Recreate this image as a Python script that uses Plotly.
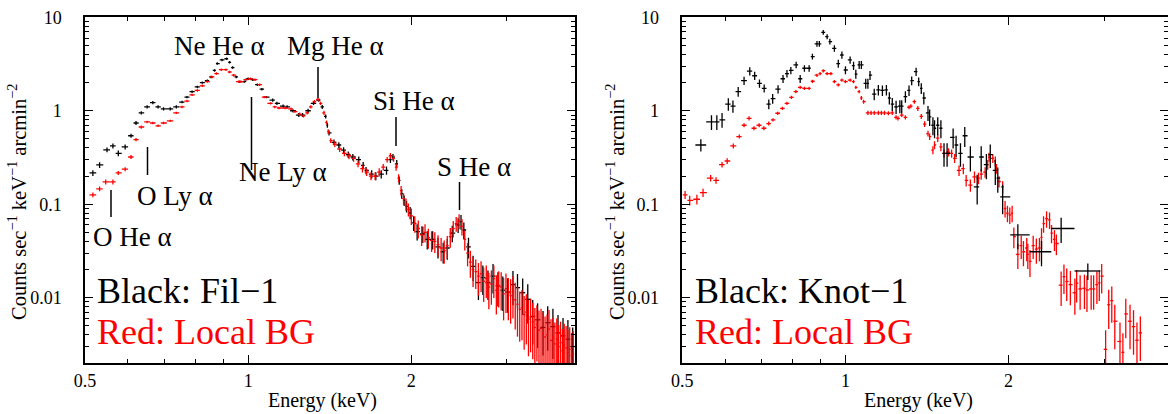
import numpy as np
import plotly.graph_objects as go

# ---------------- data ----------------
# Left panel: Fil-1 (black)
fil_E = [0.517,0.532,0.549,0.563,0.576,0.593,0.608,0.621,0.635,0.651,
         0.667,0.682,0.698,0.718,0.737,0.755,0.771,0.788,0.806,0.823,
         0.841,0.854,0.867,0.877,0.895,0.913,0.924,0.936,0.951,0.965,
         0.984,1.0,1.02,1.04,1.06,1.08,1.11,1.13,1.16,1.18,
         1.21,1.24,1.26,1.29,1.32,1.35,1.37,1.39,1.40,1.41,
         1.44,1.47,1.50,1.53,1.56,1.60,1.63,1.65,1.69,1.72,
         1.76,1.80,1.83,1.85,1.88,1.90,1.92,1.94,1.96,1.99,
         2.02,2.05,2.10,2.14,2.19,2.24,2.29,2.33,2.38,2.44,
         2.47,2.50,2.55,2.60,2.66,2.71,2.77,2.83,2.89,2.95,
         3.01,3.08,3.14,3.21,3.28,3.35,3.42,3.50,3.57,3.65,
         3.73,3.81,3.89,3.97]
fil_V = [0.216,0.263,0.382,0.42,0.35,0.41,0.54,0.74,0.95,1.1,
         1.22,1.1,1.05,1.05,1.1,1.24,1.4,1.6,1.8,2.0,
         2.1,2.3,2.7,3.2,3.5,3.6,3.3,2.9,2.3,2.05,
         2.05,2.2,2.15,1.9,1.7,1.4,1.3,1.2,1.12,1.1,
         1.0,0.9,0.9,1.0,1.2,1.3,1.1,0.87,0.7,0.58,
         0.46,0.43,0.38,0.34,0.32,0.3,0.26,0.23,0.21,0.2,
         0.21,0.23,0.3,0.32,0.27,0.18,0.13,0.11,0.095,0.081,
         0.063,0.051,0.048,0.042,0.042,0.035,0.031,0.034,0.049,0.06,
         0.065,0.053,0.035,0.0216,0.0145,0.0164,0.0145,0.017,0.0134,0.012,
         0.0115,0.0138,0.0128,0.0113,0.0096,0.0063,0.0058,0.0048,0.0054,0.0049,
         0.0042,0.0039,0.0036,0.0030]
fil_err = [0.07,0.07,0.06,0.06,0.07,0.06,0.05,0.05,0.04,0.04,
           0.04,0.04,0.04,0.04,0.04,0.03,0.03,0.03,0.03,0.03,
           0.03,0.03,0.03,0.03,0.03,0.03,0.03,0.03,0.03,0.03,
           0.03,0.03,0.03,0.03,0.03,0.03,0.04,0.04,0.04,0.04,
           0.04,0.05,0.05,0.05,0.04,0.04,0.05,0.05,0.06,0.06,
           0.07,0.07,0.07,0.08,0.08,0.08,0.09,0.09,0.1,0.1,
           0.1,0.1,0.08,0.08,0.1,0.1,0.12,0.13,0.14,0.15,
           0.18,0.2,0.2,0.22,0.22,0.25,0.25,0.25,0.2,0.18,
           0.18,0.2,0.25,0.3,0.35,0.35,0.35,0.35,0.4,0.4,
           0.4,0.4,0.4,0.42,0.45,0.5,0.5,0.5,0.5,0.55,
           0.55,0.55,0.6,0.6]

# Left panel: local background (red)
filbg_E = [0.517,0.532,0.546,0.563,0.576,0.593,0.608,0.621,0.635,0.651,
           0.667,0.682,0.698,0.718,0.737,0.755,0.771,0.788,0.806,0.823,
           0.841,0.858,0.874,0.892,0.91,0.924,0.94,0.96,0.97,0.99,
           1.01,1.03,1.05,1.07,1.10,1.12,1.14,1.17,1.20,1.22,
           1.245,1.265,1.285,1.305,1.325,1.345,1.36,1.38,1.395,1.405,
           1.42,1.445,1.475,1.505,1.535,1.565,1.595,1.625,1.655,1.685,
           1.715,1.745,1.775,1.805,1.83,1.855,1.875,1.895,1.915,1.935,
           1.955,1.975,
           2.00,2.03,2.06,2.09,2.12,2.15,2.18,2.21,2.24,2.27,
           2.30,2.33,2.36,2.39,2.42,2.45,2.48,2.51,2.54,2.57,
           2.60,2.63,2.66,2.69,2.72,2.75,2.78,2.81,2.84,2.87,
           2.90,2.93,2.96,2.99,3.02,3.05,3.08,3.11,3.14,3.17,
           3.20,3.23,3.26,3.29,3.32,3.35,3.38,3.41,3.44,3.47,
           3.50,3.53,3.56,3.59,3.62,3.65,3.68,3.71,3.74,3.77,
           3.80,3.83,3.86,3.89,3.92,3.95,3.98]
filbg_V = [0.126,0.146,0.173,0.173,0.216,0.237,0.32,0.49,0.67,0.76,
           0.74,0.69,0.74,0.78,0.95,1.1,1.27,1.48,1.65,1.85,
           2.05,2.3,2.5,2.75,2.75,2.6,2.4,2.05,2.05,2.15,
           2.2,2.15,1.9,1.4,1.2,1.1,1.07,1.07,1.05,0.98,
           0.92,0.88,0.95,1.1,1.25,1.32,1.2,0.95,0.75,0.6,
           0.48,0.44,0.39,0.35,0.33,0.31,0.27,0.24,0.22,0.2,
           0.2,0.22,0.25,0.3,0.33,0.31,0.25,0.19,0.14,0.115,
           0.1,0.088,
           0.075,0.062,0.055,0.047,0.05,0.044,0.041,0.04,0.037,0.034,
           0.032,0.036,0.045,0.055,0.062,0.066,0.058,0.042,0.03,0.024,
           0.02,0.019,0.017,0.018,0.015,0.016,0.013,0.014,0.016,0.012,
           0.0135,0.013,0.011,0.0125,0.011,0.0105,0.0115,0.0095,0.0085,0.0075,
           0.0078,0.0066,0.007,0.0059,0.0062,0.0055,0.0048,0.0052,0.0045,0.0047,
           0.0042,0.0038,0.004,0.0046,0.0035,0.0037,0.0032,0.0036,0.003,0.0033,
           0.0027,0.0031,0.0029,0.0026,0.0028,0.0024,0.0025]
filbg_err = [0.06,0.06,0.06,0.06,0.05,0.05,0.05,0.04,0.04,0.03,
             0.03,0.03,0.03,0.03,0.03,0.03,0.03,0.03,0.03,0.03,
             0.03,0.03,0.03,0.03,0.03,0.03,0.03,0.03,0.03,0.03,
             0.03,0.03,0.03,0.03,0.03,0.03,0.03,0.03,0.03,0.03,
             0.04,0.04,0.04,0.04,0.04,0.04,0.04,0.05,0.05,0.06,
             0.06,0.07,0.07,0.07,0.08,0.08,0.08,0.09,0.09,0.1,
             0.1,0.1,0.08,0.07,0.07,0.08,0.09,0.1,0.12,0.14,
             0.15,0.16,
             0.2,0.2,0.22,0.24,0.22,0.24,0.25,0.25,0.26,0.28,
             0.28,0.27,0.24,0.2,0.18,0.18,0.2,0.24,0.28,0.32,
             0.35,0.35,0.38,0.36,0.4,0.38,0.42,0.4,0.38,0.45,
             0.42,0.44,0.48,0.45,0.48,0.5,0.48,0.52,0.55,0.55,
             0.55,0.58,0.55,0.6,0.58,0.6,0.62,0.6,0.62,0.62,
             0.65,0.65,0.65,0.6,0.68,0.66,0.7,0.66,0.7,0.68,
             0.72,0.7,0.72,0.74,0.72,0.75,0.75]

# Right panel: Knot-1 (black)
knot_E = [0.541,0.566,0.579,0.592,0.608,0.620,0.634,0.650,0.666,0.680,
          0.694,0.708,0.722,0.734,0.751,0.767,0.780,0.793,0.811,0.825,
          0.840,0.857,0.869,0.886,0.895,0.910,0.925,0.936,0.954,0.970,
          0.985,1.00,1.02,1.035,1.045,1.06,1.07,1.09,1.10,1.11,
          1.13,1.15,1.17,1.19,1.205,1.22,1.24,1.26,1.27,1.29,
          1.31,1.325,1.35,1.365,1.38,1.395,1.42,1.43,1.45,1.46,
          1.48,1.50,1.52,1.54,1.58,1.60,1.63,1.66,1.70,1.75,
          1.78,1.82,1.85,1.89,1.91,1.95,2.08,2.30,2.50,2.80]
knot_V = [0.43,0.76,0.76,0.80,1.18,1.12,1.6,2.1,2.65,2.37,
          1.96,1.74,1.18,1.35,1.7,2.2,2.5,2.7,3.1,2.2,
          2.85,2.85,3.8,5.2,5.2,6.9,6.2,5.5,4.66,3.2,
          3.95,2.73,3.5,3.04,2.47,3.1,3.1,1.96,1.96,2.4,
          1.51,1.67,1.65,1.67,1.37,1.18,1.1,1.12,1.12,1.42,
          1.65,2.1,2.62,2.05,1.74,1.37,0.95,0.86,0.70,0.65,
          0.70,0.65,0.35,0.35,0.52,0.43,0.35,0.54,0.32,0.153,
          0.32,0.265,0.34,0.23,0.19,0.12,0.047,0.031,0.055,0.0193]
knot_err = [0.15,0.18,0.18,0.18,0.15,0.15,0.12,0.1,0.1,0.1,
            0.1,0.1,0.12,0.12,0.1,0.1,0.09,0.09,0.08,0.1,
            0.08,0.08,0.07,0.07,0.07,0.06,0.06,0.07,0.08,0.1,
            0.09,0.1,0.09,0.1,0.11,0.1,0.1,0.12,0.12,0.11,
            0.14,0.13,0.13,0.13,0.15,0.16,0.16,0.16,0.16,0.14,
            0.13,0.11,0.1,0.11,0.13,0.15,0.18,0.2,0.22,0.22,
            0.22,0.22,0.28,0.28,0.24,0.26,0.28,0.24,0.3,0.35,
            0.3,0.3,0.28,0.3,0.3,0.35,0.3,0.3,0.3,0.2]

# Right panel: local background (red)
knotbg_E = [0.506,0.516,0.532,0.546,0.564,0.577,0.592,0.605,0.621,0.637,
            0.650,0.664,0.678,0.693,0.707,0.722,0.735,0.750,0.765,0.780,
            0.795,0.810,0.825,0.840,0.857,0.869,0.886,0.898,0.910,0.925,
            0.940,0.954,0.970,0.985,1.00,1.02,1.035,1.045,1.06,1.07,
            1.08,1.10,1.115,1.13,1.15,1.165,1.18,1.20,1.22,1.24,
            1.25,1.27,1.29,1.31,1.32,1.34,1.36,1.38,1.40,1.42,
            1.43,1.45,1.46,1.48,1.50,1.52,1.55,1.57,1.59,1.62,
            1.65,1.67,1.70,1.73,1.76,1.78,1.81,1.83,1.84,1.87,
            1.89,1.90,1.92,1.95,1.97,1.99,2.01,2.03,2.045,2.08,
            2.11,2.13,2.16,2.17,2.19,2.22,2.25,2.28,2.30,2.32,
            2.35,2.38,2.40,2.43,2.45,2.50,2.53,2.56,2.60,2.65,
            2.67,2.71,2.76,2.79,2.84,2.87,2.91,2.94,2.97,3.02,
            3.06,3.10,3.14,3.21,3.25,3.29,3.35,3.40,3.45,3.50]
knotbg_V = [0.126,0.11,0.113,0.133,0.19,0.18,0.265,0.29,0.42,0.53,
            0.70,0.83,0.65,0.70,0.65,0.73,0.80,0.94,1.06,1.2,
            1.39,1.6,1.78,1.74,1.74,2.07,2.4,2.5,2.68,2.5,
            2.5,2.05,1.89,2.13,2.05,2.13,2.05,1.78,1.6,1.37,
            1.25,0.95,0.95,0.95,0.95,0.95,0.95,0.94,0.95,0.85,
            0.83,0.90,0.85,1.09,1.12,1.25,1.06,0.87,0.72,0.57,
            0.53,0.38,0.43,0.51,0.41,0.35,0.36,0.35,0.31,0.23,
            0.24,0.18,0.16,0.196,0.19,0.21,0.22,0.265,0.32,0.31,
            0.29,0.24,0.175,0.153,0.09,0.08,0.077,0.08,0.045,0.029,
            0.036,0.031,0.034,0.029,0.0245,0.036,0.033,0.034,0.0442,0.062,
            0.07,0.068,0.049,0.042,0.038,0.0136,0.0168,0.0149,0.0138,0.0113,
            0.0143,0.0124,0.0126,0.0121,0.0124,0.0124,0.0138,0.0144,0.017,0.0028,
            0.0084,0.0093,0.0056,0.0034,0.0026,0.0067,0.0056,0.0049,0.0035,0.0042]
knotbg_err = [0.1,0.12,0.12,0.1,0.08,0.08,0.07,0.07,0.06,0.05,
              0.05,0.05,0.05,0.05,0.05,0.05,0.04,0.04,0.04,0.04,
              0.04,0.04,0.04,0.04,0.04,0.04,0.04,0.04,0.04,0.04,
              0.04,0.04,0.04,0.04,0.04,0.04,0.04,0.04,0.04,0.05,
              0.05,0.05,0.05,0.05,0.05,0.05,0.05,0.05,0.05,0.05,
              0.05,0.05,0.05,0.05,0.05,0.05,0.06,0.06,0.07,0.07,
              0.08,0.1,0.1,0.09,0.1,0.1,0.1,0.1,0.11,0.13,
              0.13,0.14,0.15,0.14,0.14,0.13,0.13,0.12,0.11,0.11,
              0.12,0.12,0.14,0.15,0.2,0.2,0.2,0.2,0.25,0.3,
              0.28,0.3,0.28,0.3,0.32,0.28,0.3,0.28,0.25,0.2,
              0.2,0.2,0.22,0.25,0.25,0.4,0.35,0.38,0.4,0.42,
              0.38,0.4,0.4,0.42,0.4,0.4,0.38,0.36,0.35,0.6,
              0.45,0.42,0.5,0.6,0.6,0.45,0.5,0.5,0.55,0.5]

# tick labels
x_tickvals = [0.5, 1, 2]
x_ticktext = ["0.5", "1", "2"]
x_minorvals = [0.6, 0.7, 0.8, 0.9, 3]
y_tickvals = [0.01, 0.1, 1, 10]
y_ticktext = ["0.01", "0.1", "1", "10"]
y_minorvals = [m * d for d in (0.001, 0.01, 0.1, 1) for m in range(2, 10)]

line_labels = [  # text, label x,y (px), line x, y0, y1 (px)
    ("Ne He \u03b1", 219, 46, None, None, None),
    ("Mg He \u03b1", 335, 46, 318, 67, 98),
    ("Si He \u03b1", 414, 101, 396, 117, 146),
    ("S He \u03b1", 474, 167, 459.5, 182, 210),
    ("Ne Ly \u03b1", 283, 172, 251.5, 97, 170),
    ("O Ly \u03b1", 175, 196, 147.5, 147, 175),
    ("O He \u03b1", 132, 237, 111, 190, 217),
]

# ---------------- figure ----------------
W, H = 1168, 414
FONT = "Liberation Serif, Times New Roman, Times, serif"


def bins(E):
    E = np.asarray(E, float)
    mids = np.sqrt(E[1:] * E[:-1])
    lo = np.concatenate([[E[0] - (mids[0] - E[0])], mids])
    hi = np.concatenate([mids, [E[-1] + (E[-1] - mids[-1])]])
    return E - lo, hi - E


def spectrum(E, V, err, color, xa, ya):
    V = np.asarray(V, float)
    e = np.asarray(err, float) * V
    xm, xp = bins(E)
    return go.Scatter(
        x=E, y=V, mode="markers", xaxis=xa, yaxis=ya,
        marker=dict(size=0.1, color=color, opacity=0),
        error_y=dict(type="data", array=e, arrayminus=e, color=color,
                     thickness=1.3, width=0, symmetric=False),
        error_x=dict(type="data", array=xp, arrayminus=xm, color=color,
                     thickness=1.3, width=0, symmetric=False),
        hoverinfo="skip", showlegend=False,
    )


fig = go.Figure()
fig.add_trace(spectrum(fil_E, fil_V, fil_err, "#000000", "x", "y"))
fig.add_trace(spectrum(filbg_E, filbg_V, filbg_err, "#ff0000", "x", "y"))
fig.add_trace(spectrum(knotbg_E, knotbg_V, knotbg_err, "#ff0000", "x2", "y2"))
fig.add_trace(spectrum(knot_E, knot_V, knot_err, "#000000", "x2", "y2"))

px_per_dec = 542.0
left0, left1 = 85, 575
right0 = 682.3
xr_right = [np.log10(0.5), np.log10(0.5) + (W - right0) / px_per_dec]
ydom = [1 - 363 / H, 1 - 17.3 / H]

xcommon = dict(type="log", tickvals=x_tickvals, ticktext=x_ticktext,
               ticks="inside", ticklen=8, tickwidth=1.2, tickcolor="black",
               showline=True, linecolor="black", linewidth=1.5,
               mirror="allticks", showgrid=False, zeroline=False, automargin=False,
               tickfont=dict(family=FONT, size=18, color="black"),
               ticklabelstandoff=1,
               minor=dict(tickvals=x_minorvals, ticks="inside", ticklen=4,
                          tickwidth=1.2, tickcolor="black", showgrid=False))
ycommon = dict(type="log", range=[np.log10(0.002), 1], domain=ydom,
               tickvals=y_tickvals, ticktext=y_ticktext,
               ticks="inside", ticklen=8, tickwidth=1.2, tickcolor="black",
               showline=True, linecolor="black", linewidth=1.5,
               mirror="allticks", showgrid=False, zeroline=False, automargin=False,
               tickfont=dict(family=FONT, size=18, color="black"),
               ticklabelstandoff=18,
               minor=dict(tickvals=y_minorvals, ticks="inside", ticklen=4,
                          tickwidth=1.2, tickcolor="black", showgrid=False))

fig.update_layout(
    template="none",
    width=W, height=H, margin=dict(l=0, r=0, t=0, b=0, pad=0, autoexpand=False),
    paper_bgcolor="white", plot_bgcolor="white", showlegend=False,
    font=dict(family=FONT, color="black"),
    xaxis=dict(xcommon, domain=[left0 / W, left1 / W],
               range=[np.log10(0.5), np.log10(0.5) + (left1 - left0) / px_per_dec],
               anchor="y"),
    xaxis2=dict(xcommon, domain=[right0 / W, 1.0], range=xr_right, anchor="y2"),
    yaxis=dict(ycommon, anchor="x"),
    yaxis2=dict(ycommon, anchor="x2"),
)

ann = []
shapes = []
for txt, lx, ly, linex, y0, y1 in line_labels:
    ann.append(dict(text=txt, x=lx / W, y=1 - ly / H, xref="paper", yref="paper",
                    xanchor="center", yanchor="middle", showarrow=False,
                    font=dict(family=FONT, size=27, color="black")))
    if linex is not None:
        shapes.append(dict(type="line", xref="paper", yref="paper",
                           x0=linex / W, x1=linex / W, y0=1 - y0 / H, y1=1 - y1 / H,
                           line=dict(color="black", width=1.5)))

for x0, name in ((96, "Black: Fil\u22121"), (694, "Black: Knot\u22121")):
    ann.append(dict(text=name, x=x0 / W, y=1 - 312 / H, xref="paper", yref="paper",
                    xanchor="left", yanchor="bottom", showarrow=False, borderpad=0,
                    font=dict(family=FONT, size=36, color="black")))
    ann.append(dict(text="Red: Local BG", x=x0 / W, y=1 - 311 / H, xref="paper",
                    yref="paper", xanchor="left", yanchor="top", showarrow=False,
                    borderpad=0,
                    font=dict(family=FONT, size=36, color="#ff0000")))

ytitle = "Counts sec<sup>\u22121</sup> keV<sup>\u22121</sup> arcmin<sup>\u22122</sup>"
for xc in (17, 615):
    ann.append(dict(text=ytitle, x=xc / W, y=1 - 202 / H, xref="paper", yref="paper",
                    xanchor="center", yanchor="middle", textangle=-90, showarrow=False,
                    font=dict(family=FONT, size=20.5, color="black")))
for xc in (322, 918):
    ann.append(dict(text="Energy (keV)", x=xc / W, y=1 - 400 / H, xref="paper",
                    yref="paper", xanchor="center", yanchor="middle", showarrow=False,
                    font=dict(family=FONT, size=20, color="black")))

fig.update_layout(annotations=ann, shapes=shapes)
fig.write_html("out.html")
